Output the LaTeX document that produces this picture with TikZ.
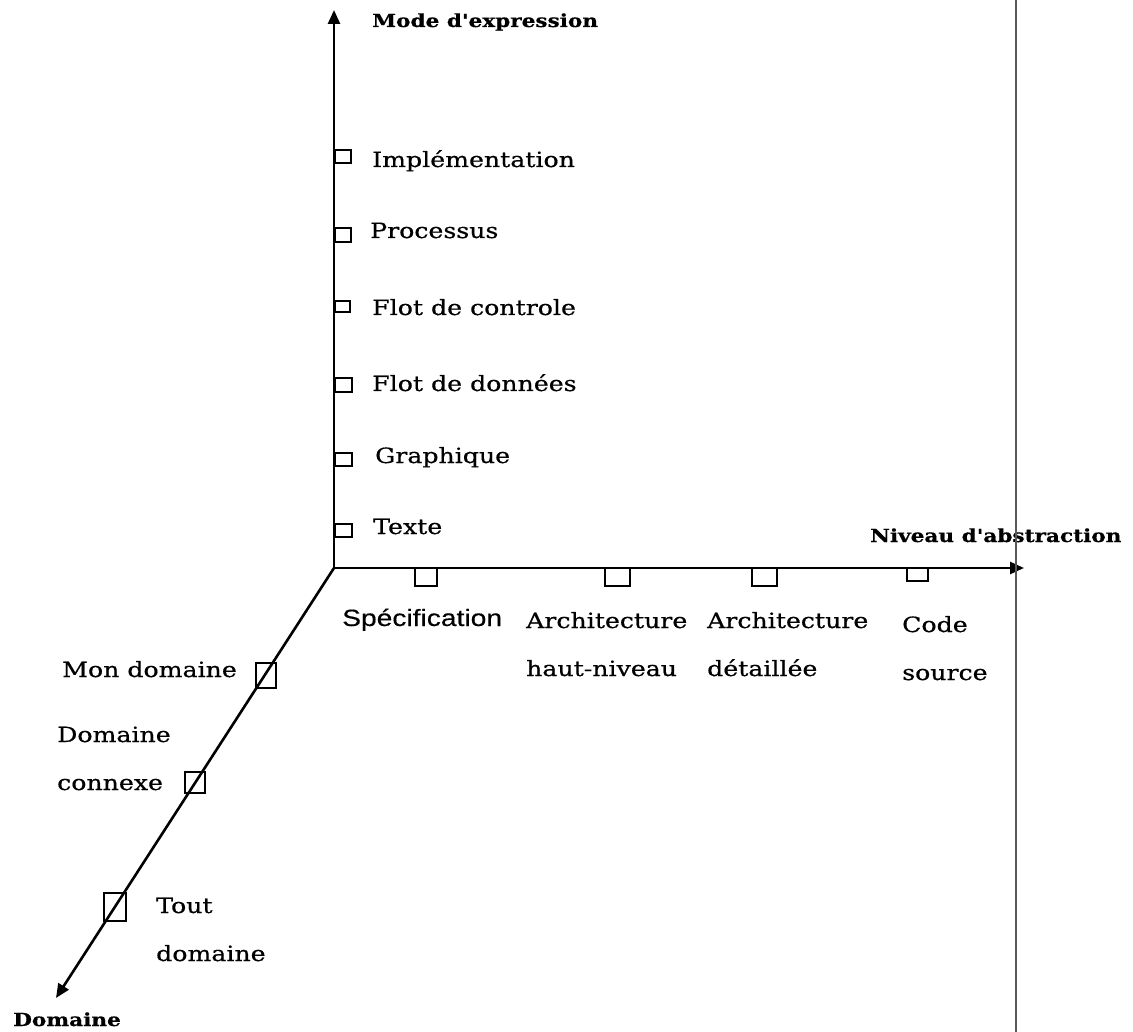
\documentclass[tikz,border=0pt]{standalone}
\usepackage{fontspec}
\setmainfont[FakeStretch=1.2,FakeBold=0.6]{DejaVu Serif}
\newfontfamily\sansfam[FakeStretch=1.2,FakeBold=0.4]{Liberation Sans}
\newfontfamily\ttlfam[FakeStretch=1.2,FakeBold=0.6]{DejaVu Serif}
\usetikzlibrary{arrows.meta}

% two stacked lines, baseline on the first one
\newcommand{\twolines}[2]{\begin{tabular}[t]{@{}l@{}}#1\\#2\end{tabular}}

\tikzset{
  axis/.style={line width=2.6pt, -{Triangle[length=14pt,width=12pt]}},
  tick/.style={draw, line width=2pt, inner sep=0pt, outer sep=0pt},
  lab/.style={inner sep=0pt, anchor=base west, font=\fontsize{21}{48}\selectfont},
  saxis/.style={inner sep=0pt, anchor=base west, font=\ttlfam\bfseries\fontsize{18}{20}\selectfont},
  sep/.style={draw=black!65, line width=1.2pt}
}

\begin{document}
\begin{tikzpicture}[x=1pt,y=-1pt]
  \useasboundingbox (0,0) rectangle (1133,1032);

  % axes
  \coordinate (O) at (334,568);
  \coordinate (Ytip) at (334,10);
  \coordinate (Xtip) at (1024,568);
  \coordinate (Ztip) at (56,998);
  \draw[axis] (O) -- (Ytip);
  \draw[axis] (O) -- (Xtip);
  \draw[axis] (O) -- (Ztip);

  % axis titles
  \node[saxis] (tY) at (372,27) {Mode d'expression};
  \node[saxis] (tX) at (870,542) {Niveau d'abstraction};
  \node[saxis] (tZ) at (13,1026) {Domaine};

  % expression modes
  \node[tick, anchor=west, minimum width=16pt, minimum height=13pt] (mImpl) at (335,157) {};
  \node[tick, anchor=west, minimum width=16pt, minimum height=14pt] (mProc) at (335,235) {};
  \node[tick, anchor=west, minimum width=15pt, minimum height=11pt] (mCtrl) at (335,307) {};
  \node[tick, anchor=west, minimum width=17pt, minimum height=13pt] (mData) at (335,385) {};
  \node[tick, anchor=west, minimum width=17pt, minimum height=13pt] (mGraph) at (335,459) {};
  \node[tick, anchor=west, minimum width=17pt, minimum height=13pt] (mText) at (335,530) {};

  \node[lab] (lImpl) at (372,167) {Implémentation};
  \node[lab] (lProc) at (370,238) {Processus};
  \node[lab] (lCtrl) at (372,315) {Flot de controle};
  \node[lab] (lData) at (372,391) {Flot de données};
  \node[lab] (lGraph) at (375,463) {Graphique};
  \node[lab] (lText) at (373,534) {Texte};

  % abstraction levels
  \node[tick, anchor=north, minimum width=22pt, minimum height=18pt] (aSpec) at (426,568) {};
  \node[tick, anchor=north, minimum width=25pt, minimum height=18pt] (aHaut) at (617.5,568) {};
  \node[tick, anchor=north, minimum width=25pt, minimum height=18pt] (aDet) at (764.5,568) {};
  \node[tick, anchor=north, minimum width=21pt, minimum height=13pt] (aCode) at (917.5,568) {};

  \node[inner sep=0pt, anchor=base west, font=\sansfam\fontsize{23.5}{26}\selectfont] (lSpec) at (342,626) {Spécification};
  \node[lab] (lHaut) at (526,628) {\twolines{Architecture}{haut-niveau}};
  \node[lab] (lDet) at (707,628) {\twolines{Architecture}{détaillée}};
  \node[lab] (lCode) at (902,632) {\twolines{Code}{source}};

  % domains
  \node[tick, minimum width=20pt, minimum height=25pt] (dMon) at (266,675.5) {};
  \node[tick, minimum width=20pt, minimum height=21pt] (dConn) at (195,782.5) {};
  \node[tick, minimum width=22pt, minimum height=28pt] (dTout) at (115,907) {};

  \node[lab] (lMon) at (62,677) {Mon domaine};
  \node[lab] (lConn) at (57,742) {\twolines{Domaine}{connexe}};
  \node[lab] (lTout) at (156,913) {\twolines{Tout}{domaine}};

  % page rule on the right
  \coordinate (rTop) at (1016,0);
  \coordinate (rBot) at (1016,1032);
  \draw[sep] (rTop) -- (rBot);
\end{tikzpicture}
\end{document}
